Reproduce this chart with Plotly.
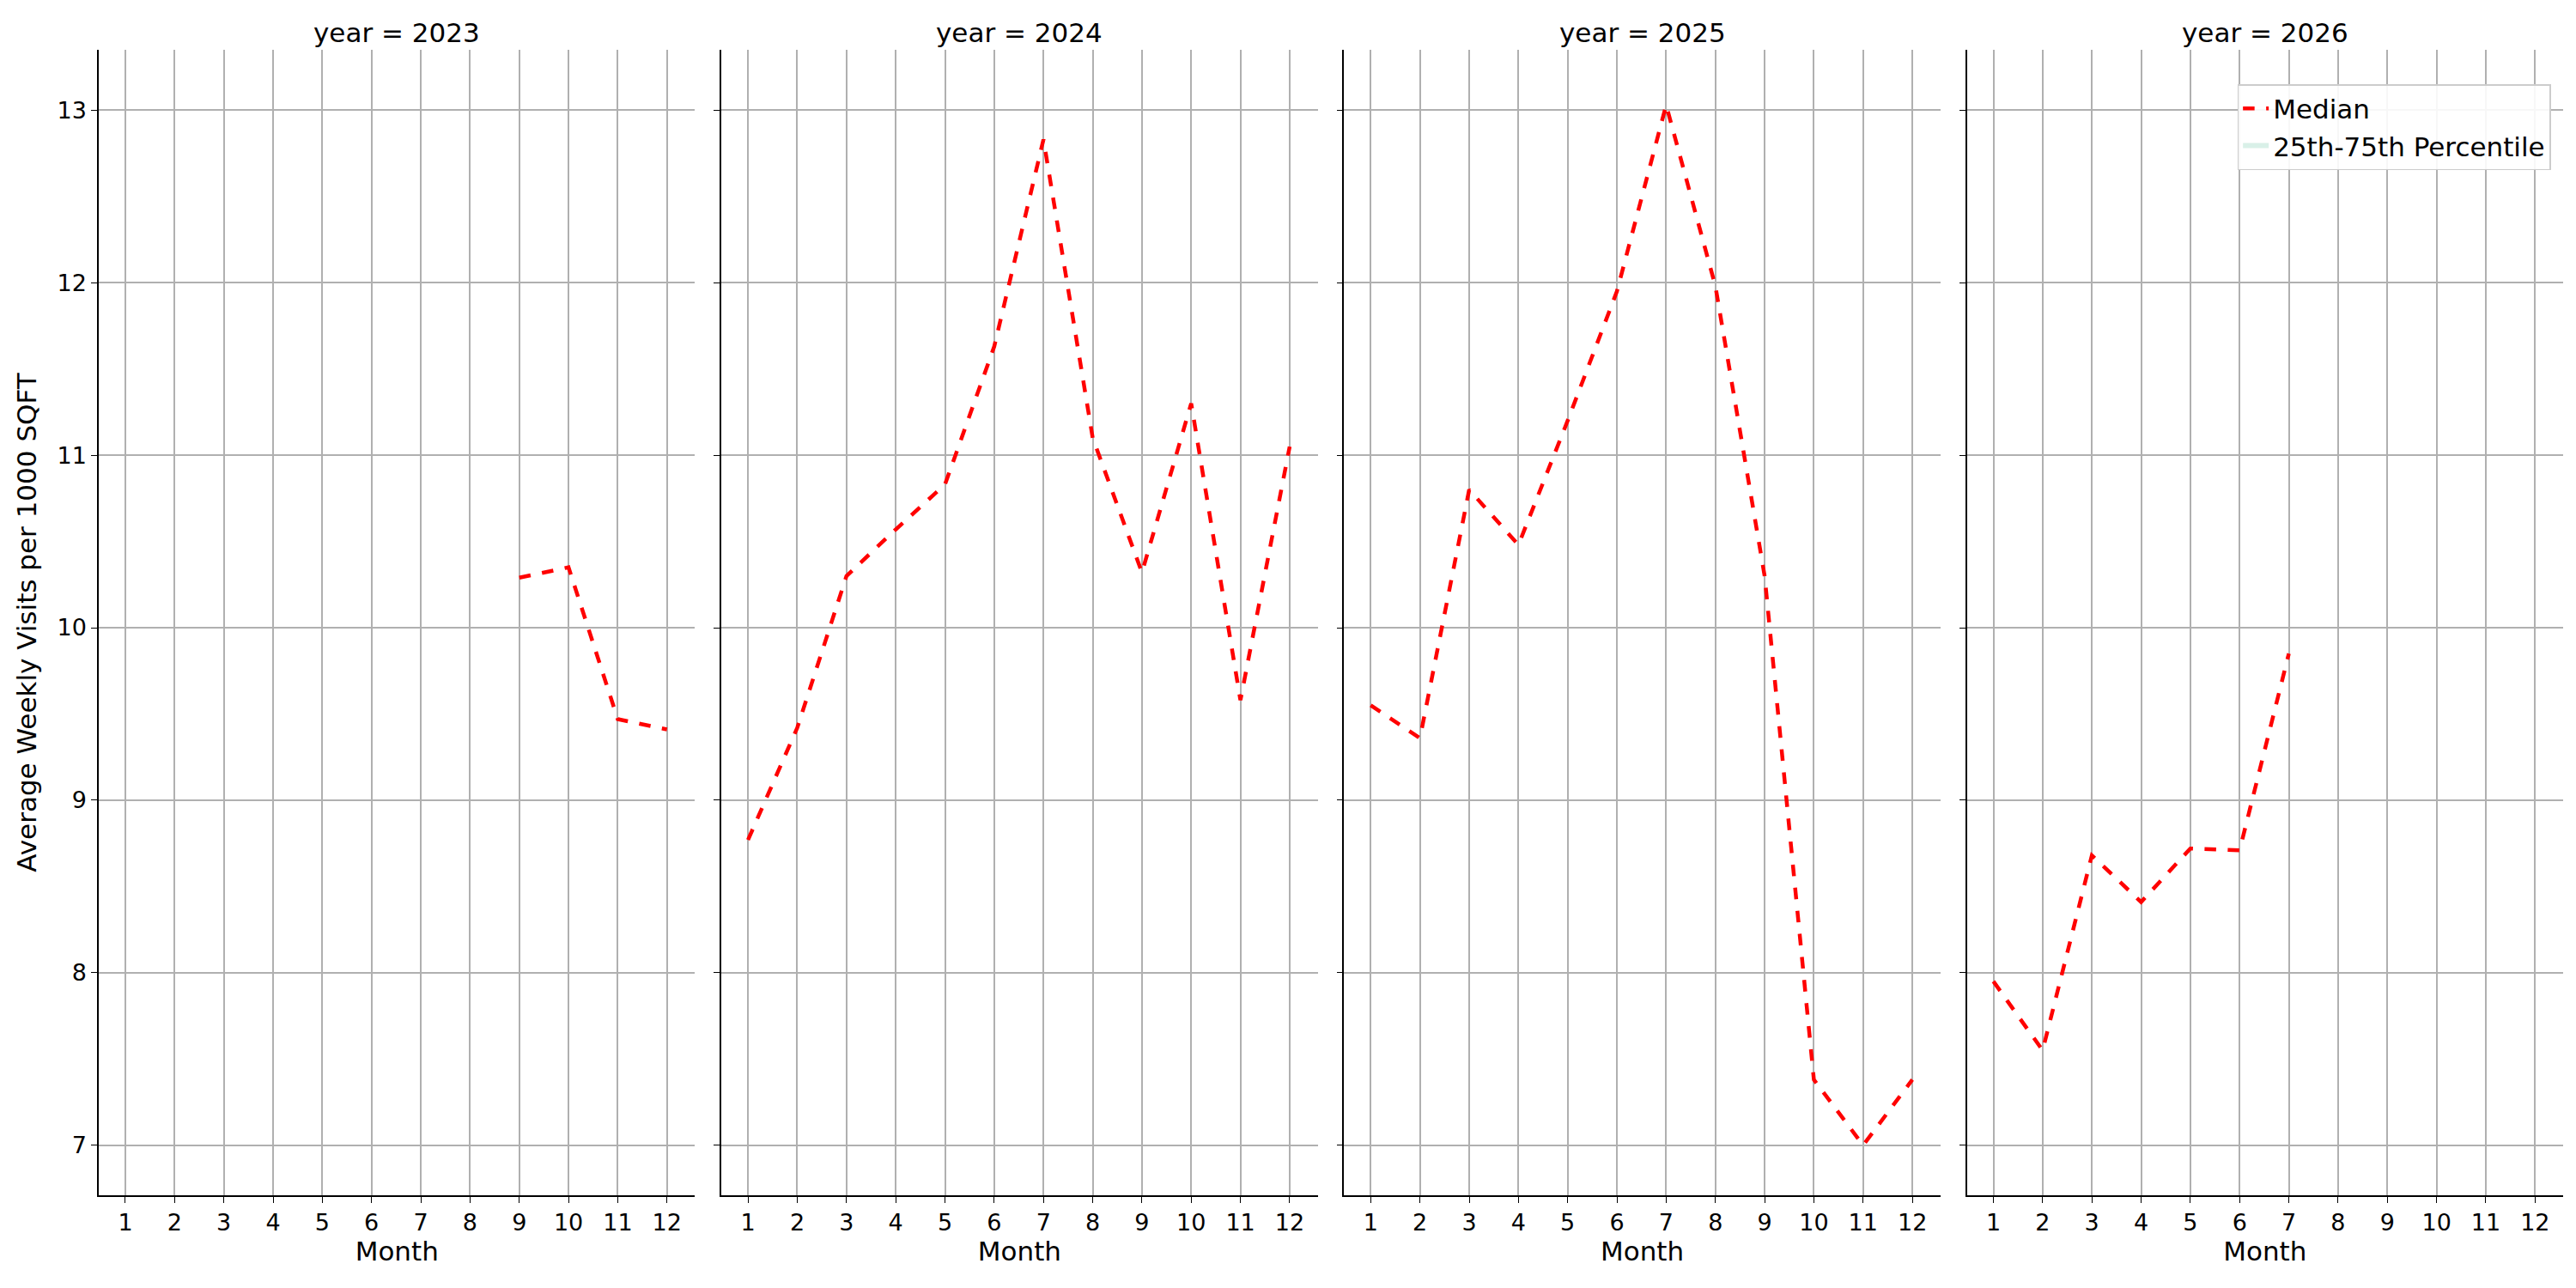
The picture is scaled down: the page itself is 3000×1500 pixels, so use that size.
import plotly.graph_objects as go
from plotly.subplots import make_subplots

years = [2023, 2024, 2025, 2026]
months = list(range(1, 13))
median = {
    2023: [None]*8 + [10.29, 10.35, 9.47, 9.41],
    2024: [8.77, 9.42, 10.30, 10.57, 10.83, 11.63, 12.83, 11.10, 10.32, 11.30, 9.58, 11.05],
    2025: [9.55, 9.36, 10.80, 10.48, 11.20, 11.95, 13.03, 11.98, 10.30, 7.38, 7.00, 7.38],
    2026: [7.95, 7.55, 8.68, 8.41, 8.72, 8.71, 9.85] + [None]*5,
}
yticks = [7, 8, 9, 10, 11, 12, 13]

fig = make_subplots(rows=1, cols=4, shared_yaxes=True, horizontal_spacing=0.0107,
                    subplot_titles=[f"year = {y}" for y in years])
for i, y in enumerate(years):
    fig.add_trace(go.Scatter(x=months, y=median[y], mode="lines",
                             line=dict(color="red", width=4.5, dash="dash"),
                             name="Median", showlegend=(i == 3), legendrank=1), row=1, col=i+1)
fig.add_trace(go.Scatter(x=[None], y=[None], fill="toself", mode="none",
                         fillcolor="rgba(102,194,165,0.25)", name="25th-75th Percentile",
                         legendrank=2), row=1, col=4)

font = "DejaVu Sans"
for i in range(4):
    fig.update_xaxes(row=1, col=i+1, range=[0.46, 12.57], tickvals=months, showgrid=True,
                     gridcolor="#b0b0b0", gridwidth=1.5, showline=True, linecolor="black",
                     linewidth=1.5, ticks="outside", ticklen=7, tickcolor="black",
                     tickfont=dict(size=27, color="black"),
                     title=dict(text="Month", font=dict(size=31, color="black"), standoff=6),
                     zeroline=False)
    fig.update_yaxes(row=1, col=i+1, range=[6.71, 13.35], tickvals=yticks, showgrid=True,
                     gridcolor="#b0b0b0", gridwidth=1.5, showline=True, linecolor="black",
                     linewidth=1.5, ticks="outside", ticklen=7, tickcolor="black",
                     tickfont=dict(size=27, color="black"), zeroline=False,
                     showticklabels=(i == 0))
fig.update_yaxes(row=1, col=1, title=dict(text="Average Weekly Visits per 1000 SQFT",
                                           font=dict(size=31, color="black")))
for a in fig.layout.annotations:
    a.font = dict(size=31, color="black", family=font)

fig.update_layout(width=3000, height=1500, plot_bgcolor="white", paper_bgcolor="white",
                  font=dict(family=font, color="black"),
                  margin=dict(l=107, r=23, t=50, b=116),
                  legend=dict(x=0.995, y=0.97, xanchor="right", yanchor="top",
                              bgcolor="rgba(255,255,255,0.9)", bordercolor="#cccccc",
                              borderwidth=1.5, font=dict(size=31, color="black")))
fig.write_html("out.html")
